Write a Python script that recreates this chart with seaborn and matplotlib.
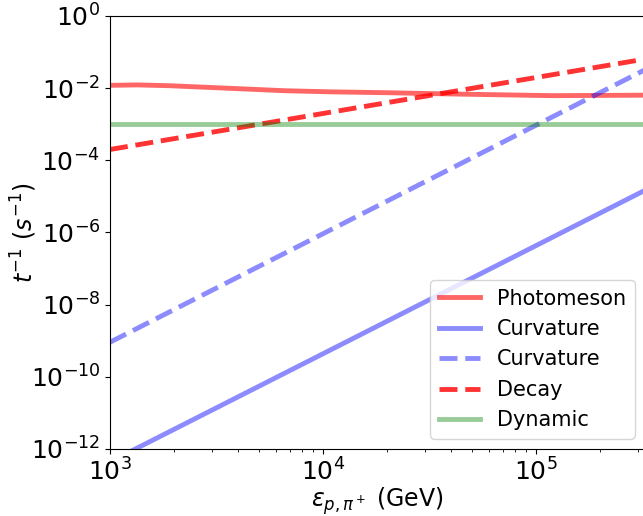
import matplotlib
matplotlib.use("Agg")
import matplotlib.pyplot as plt
import seaborn as sns

# energy grid (GeV) and rates (1/s)
photo_e = [1e3, 1.35e3, 1.9e3, 2.8e3, 4.3e3, 6.6e3, 1.1e4, 1.95e4, 4.6e4, 1.2e5, 3.3e5]
photo_rate = [0.0120, 0.0123, 0.0117, 0.0106, 0.0095, 0.0085, 0.0079, 0.0075,
              0.0068, 0.0062, 0.0064]

line_e = [1e3, 3.3e5]
curv_p_rate = [4.4e-13, 1.55e-5]
curv_pi_rate = [9.1e-10, 3.4e-2]
decay_rate = [2.0e-4, 6.5e-2]
dyn_rate = [1e-3, 1e-3]

fig = plt.figure(figsize=(6.43, 5.16), dpi=100)
ax = fig.add_axes([110 / 643, 67 / 516, 535 / 643, 433 / 516])

sns.lineplot(x=photo_e, y=photo_rate, ax=ax, color='red', alpha=0.6, lw=3.5,
             label='Photomeson')
sns.lineplot(x=line_e, y=curv_p_rate, ax=ax, color='blue', alpha=0.45, lw=3.5,
             label='Curvature')
sns.lineplot(x=line_e, y=curv_pi_rate, ax=ax, color='blue', alpha=0.45, lw=3.5,
             ls='--', label='Curvature')
sns.lineplot(x=line_e, y=decay_rate, ax=ax, color='red', alpha=0.8, lw=3.5,
             ls='--', label='Decay')
sns.lineplot(x=line_e, y=dyn_rate, ax=ax, color='green', alpha=0.4, lw=3.5,
             label='Dynamic')

ax.set(xscale='log', yscale='log')
ax.set_xlim(1e3, 10 ** (3 + 535 / 213))
ax.set_ylim(1e-12, 1)
ax.set_yticks([1e0, 1e-2, 1e-4, 1e-6, 1e-8, 1e-10, 1e-12])
ax.set_xticks([1e3, 1e4, 1e5])
ax.tick_params(axis='both', which='major', labelsize=18)
ax.set_xlabel(r'$\varepsilon_{p,\pi^+}$ (GeV)', fontsize=17)
ax.set_ylabel(r'$t^{-1}$ $(s^{-1})$', fontsize=17)
ax.xaxis.set_label_coords(0.5, -0.083)
ax.yaxis.set_label_coords(-0.132, 0.5)
ax.legend(loc='lower right', fontsize=15)

fig.savefig('out.png', dpi=100)
